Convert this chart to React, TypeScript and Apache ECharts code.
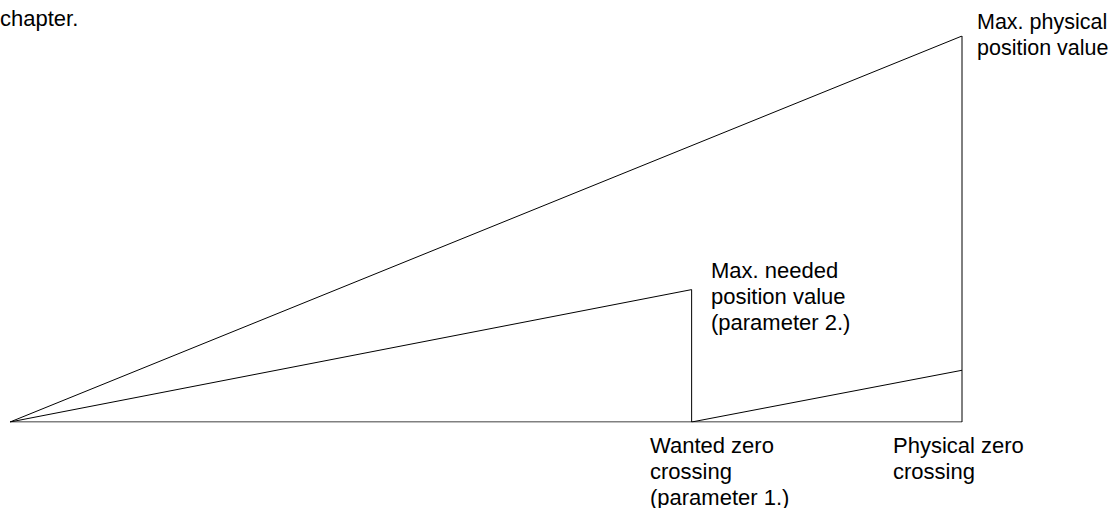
import React, { useEffect, useRef } from "react";
import * as echarts from "echarts";

// Positions along the axis (0 = origin, 100 = physical zero crossing)
const positions = { origin: 0, wantedZero: 71.6, physicalZero: 100 };
// Position values (100 = max. physical position value)
const outerTriangle: [number, number][] = [
  [0, 0],
  [100, 100],
  [100, 0],
  [0, 0],
];
const neededRamp: [number, number][] = [
  [0, 0],
  [71.6, 34.3],
  [71.6, 0],
];
const offsetRamp: [number, number][] = [
  [71.6, 0],
  [100, 13.4],
];

const labelTexts = {
  chapter: "chapter.",
  maxPhysical: "Max. physical\nposition value",
  maxNeeded: "Max. needed\nposition value\n(parameter 2.)",
  wantedZero: "Wanted zero\ncrossing\n(parameter 1.)",
  physicalZero: "Physical zero\ncrossing",
};

const FONT = "'Liberation Sans', Arial, Helvetica, sans-serif";

export default function App() {
  const ref = useRef<HTMLDivElement>(null);
  useEffect(() => {
    if (!ref.current) return;
    const chart = echarts.init(ref.current, undefined, { renderer: "svg" });
    const lineStyle = { color: "#000", width: 1 };
    const txt = (text: string, x: number, y: number, size = 22) => ({
      type: "text",
      left: x,
      top: y,
      style: {
        text,
        fill: "#000",
        font: `${size}px ${FONT}`,
        lineHeight: 26,
        verticalAlign: "top",
      },
    });
    chart.setOption({
      animation: false,
      backgroundColor: "#fff",
      grid: { left: 10, top: 36, width: 952, height: 386 },
      xAxis: {
        type: "value",
        min: positions.origin,
        max: positions.physicalZero,
        show: false,
      },
      yAxis: { type: "value", min: 0, max: 100, show: false },
      series: [
        { type: "line", data: outerTriangle, symbol: "none", lineStyle, silent: true },
        { type: "line", data: neededRamp, symbol: "none", lineStyle, silent: true },
        { type: "line", data: offsetRamp, symbol: "none", lineStyle, silent: true },
      ],
      graphic: [
        txt(labelTexts.chapter, 0, 5),
        txt(labelTexts.maxPhysical, 977, 9, 21.5),
        txt(labelTexts.maxNeeded, 711, 257),
        txt(labelTexts.wantedZero, 650, 432),
        txt(labelTexts.physicalZero, 893, 432),
      ],
    });
    return () => chart.dispose();
  }, []);
  return <div ref={ref} style={{ width: 1115, height: 508, position: "absolute", left: 0, top: 0 }} />;
}
